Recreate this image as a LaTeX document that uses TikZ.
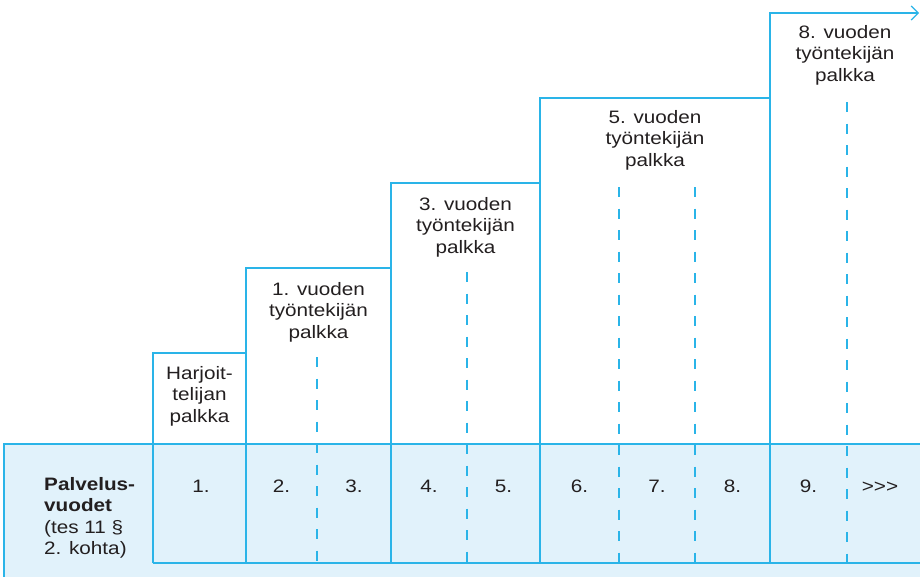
\documentclass[tikz,border=0pt]{standalone}
\usepackage{fontspec}
\setmainfont{Liberation Sans}[FakeStretch=1.15]
\usepackage{tikz}
\usetikzlibrary{arrows.meta}
\definecolor{linjasini}{HTML}{2AB4E8}
\definecolor{pohjasini}{HTML}{E1F2FB}
\definecolor{teksti}{HTML}{231F20}

\begin{document}
\begin{tikzpicture}[x=1pt,y=-1pt,
    viiva/.style={draw=linjasini,line width=1.2pt},
    katko/.style={draw=linjasini,line width=1.2pt,dash pattern=on 10pt off 11.5pt},
    palkka/.style={align=center,anchor=base,inner sep=0pt,text=teksti,font=\fontsize{18}{21.5}\selectfont},
    vuosi/.style={anchor=base,inner sep=0pt,text=teksti,font=\fontsize{18}{21.5}\selectfont}]
  \useasboundingbox (0,0) rectangle (920,576);

  % palvelusvuosien pohja
  \begin{scope}
    \clip (0,0) rectangle (920,576);
    \fill[pohjasini] (4,444) rectangle (930,590);
    \draw[viiva] (4,590) -- (4,444) -- (930,444);
    \draw[viiva] (153,563) -- (930,563);
  \end{scope}

  % portaat
  \draw[viiva] (153,563) -- (153,353) -- (246,353);
  \draw[viiva] (246,563) -- (246,268) -- (391,268);
  \draw[viiva] (391,563) -- (391,183) -- (540,183);
  \draw[viiva] (540,563) -- (540,98) -- (770,98);
  \draw[viiva,-{Straight Barb[length=7pt,width=14pt]}] (770,563) -- (770,13) -- (919,13);

  % vuosien katkoviivat
  \draw[katko] (317,357) -- (317,563);
  \draw[katko] (467,272) -- (467,563);
  \draw[katko] (619,187) -- (619,563);
  \draw[katko] (695,187) -- (695,563);
  \draw[katko] (847,102) -- (847,563);

  % base = viimeisen rivin perusviiva
  \node[palkka] (harj) at (199.5,422) {Harjoit-\\telijan\\palkka};
  \node[palkka] (v1) at (318.5,338) {1. vuoden\\työntekijän\\palkka};
  \node[palkka] (v3) at (465.5,253) {3. vuoden\\työntekijän\\palkka};
  \node[palkka] (v5) at (655,166) {5. vuoden\\työntekijän\\palkka};
  \node[palkka] (v8) at (845,81) {8. vuoden\\työntekijän\\palkka};

  \node[palkka,align=left,anchor=base west] (otsake) at (44,554.5)
    {\textbf{Palvelus-}\\\textbf{vuodet}\\(tes 11 §\\2. kohta)};

  \node[vuosi] (n1) at (201,492) {1.};
  \node[vuosi] (n2) at (281.5,492) {2.};
  \node[vuosi] (n3) at (354,492) {3.};
  \node[vuosi] (n4) at (429,492) {4.};
  \node[vuosi] (n5) at (503.5,492) {5.};
  \node[vuosi] (n6) at (579.5,492) {6.};
  \node[vuosi] (n7) at (657,492) {7.};
  \node[vuosi] (n8) at (732.5,492) {8.};
  \node[vuosi] (n9) at (808.5,492) {9.};
  \node[vuosi] (jatko) at (880,492) {>\kern0pt>\kern0pt>};
\end{tikzpicture}
\end{document}
